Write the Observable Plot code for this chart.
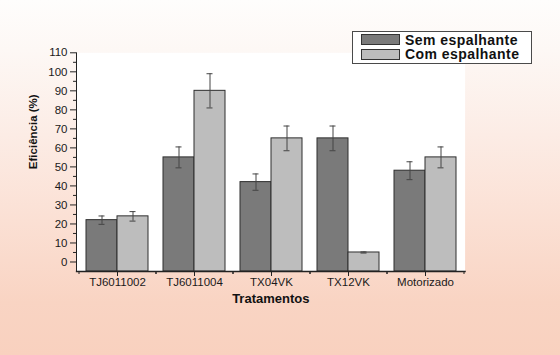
<!DOCTYPE html>
<html>
<head>
<meta charset="utf-8">
<script src="https://cdn.jsdelivr.net/npm/d3@7"></script>
<script src="https://cdn.jsdelivr.net/npm/@observablehq/plot@0.6"></script>
<style>
  html, body { margin: 0; padding: 0; }
  #wrap {
    position: relative; width: 560px; height: 355px; overflow: hidden;
    background: linear-gradient(to bottom, #fefdfc 0%, #fdf8f5 14%, #fcece5 38%, #fbe0d4 62%, #f9d4c3 85%, #f9d1bf 100%);
    font-family: "Liberation Sans", Arial, sans-serif;
  }
  #legend {
    position: absolute; left: 352px; top: 31px; width: 178px; height: 31px;
    border: 1.5px solid #4a4a4a; background: #ffffff;
  }
  .item { position: absolute; left: 8px; height: 14px; line-height: 14px; display: flex; align-items: center; }
  .sw { width: 37px; height: 9px; border: 1px solid #333; box-sizing: content-box; margin-right: 5px; }
  .lab { font-weight: bold; font-size: 14px; line-height: 14px; letter-spacing: 0.45px; color: #111; white-space: nowrap; }
</style>
</head>
<body>
<div id="wrap"><div id="chart"></div><div id="legend"></div></div>
<script>
// ---- data ----
const groups = ["TJ6011002", "TJ6011004", "TX04VK", "TX12VK", "Motorizado"];
const series = ["Sem espalhante", "Com espalhante"];
const semValues = [22, 55, 42, 65, 48];
const semErrors = [2.2, 5.5, 4.3, 6.5, 4.7];
const comValues = [24, 90, 65, 5, 55];
const comErrors = [2.5, 9, 6.5, 0.3, 5.5];
const yTicks = [0, 10, 20, 30, 40, 50, 60, 70, 80, 90, 100, 110];
const yMinorTicks = [5, 15, 25, 35, 45, 55, 65, 75, 85, 95, 105];
const yDomain = [-5, 110];
const colors = ["#7a7a7a", "#bdbdbd"];

const semRows = groups.map((g, i) => ({group: g, value: semValues[i], err: semErrors[i]}));
const comRows = groups.map((g, i) => ({group: g, value: comValues[i], err: comErrors[i]}));

const base = {
  width: 560, height: 355,
  marginLeft: 76, marginRight: 95.4, marginTop: 52.3, marginBottom: 84,
  x: {type: "band", domain: groups, paddingInner: 0.2, paddingOuter: 0.1, axis: null},
  y: {domain: yDomain, axis: null},
  style: {fontFamily: "'Liberation Sans', Arial, sans-serif", fontSize: "11.5px", color: "#1a1a1a", background: "transparent", overflow: "visible"}
};

// probe to get band geometry from the scale itself
const probe = Plot.plot({...base, marks: [Plot.barY(semRows, {x: "group", y: "value"})]});
const xs = probe.scale("x");
const bw = xs.bandwidth, step = xs.step;
const capW = 6;
const stroke = "#2e2e2e";
const errStroke = "#444";

const chart = Plot.plot({
  ...base,
  marks: [
    Plot.frame({fill: "white", stroke: null}),
    Plot.barY(semRows, {x: "group", y1: yDomain[0], y2: "value", fill: colors[0], stroke, strokeWidth: 1, insetRight: bw / 2}),
    Plot.barY(comRows, {x: "group", y1: yDomain[0], y2: "value", fill: colors[1], stroke, strokeWidth: 1, insetLeft: bw / 2}),
    // error bars
    Plot.ruleX(semRows, {x: "group", y1: d => d.value - d.err, y2: d => d.value + d.err, dx: -bw / 4, stroke: errStroke}),
    Plot.ruleX(comRows, {x: "group", y1: d => d.value - d.err, y2: d => d.value + d.err, dx: bw / 4, stroke: errStroke}),
    Plot.tickY(semRows, {x: "group", y: d => d.value + d.err, insetLeft: bw / 4 - capW / 2, insetRight: 3 * bw / 4 - capW / 2, stroke: errStroke}),
    Plot.tickY(semRows, {x: "group", y: d => d.value - d.err, insetLeft: bw / 4 - capW / 2, insetRight: 3 * bw / 4 - capW / 2, stroke: errStroke}),
    Plot.tickY(comRows, {x: "group", y: d => d.value + d.err, insetLeft: 3 * bw / 4 - capW / 2, insetRight: bw / 4 - capW / 2, stroke: errStroke}),
    Plot.tickY(comRows, {x: "group", y: d => d.value - d.err, insetLeft: 3 * bw / 4 - capW / 2, insetRight: bw / 4 - capW / 2, stroke: errStroke}),
    // axes
    Plot.axisY({ticks: yTicks, tickSize: 6, tickPadding: 3, label: null, stroke: "#222"}),
    Plot.axisY({ticks: yMinorTicks, tickSize: 3, tickFormat: () => "", label: null, stroke: "#222"}),
    Plot.axisX({tickSize: 5, tickPadding: 1, label: null, stroke: "#222"}),
    Plot.axisX({tickSize: 3, tickFormat: () => "", label: null, dx: -step / 2, stroke: "#222"}),
    Plot.axisX({tickSize: 3, tickFormat: () => "", label: null, dx: step / 2, stroke: "#222"}),
    Plot.frame({anchor: "left", stroke: "#222"}),
    Plot.frame({anchor: "bottom", stroke: "#222", strokeWidth: 1.3}),
    Plot.text(["Tratamentos"], {frameAnchor: "bottom", dy: 27, lineAnchor: "middle", fontWeight: "bold", fontSize: 13, fill: "#111"}),
    Plot.text(["Eficiência (%)"], {frameAnchor: "left", rotate: -90, dx: -43, dy: 7, lineAnchor: "middle", fontWeight: "bold", fontSize: 11.5, fill: "#111"})
  ]
});
document.getElementById("chart").appendChild(chart);

// legend
const legend = d3.select("#legend");
series.forEach((s, i) => {
  const item = legend.append("div").attr("class", "item").style("top", (i === 0 ? 0.5 : 15) + "px");
  item.append("div").attr("class", "sw").style("background", colors[i]);
  item.append("div").attr("class", "lab").text(s);
});
</script>
</body>
</html>
